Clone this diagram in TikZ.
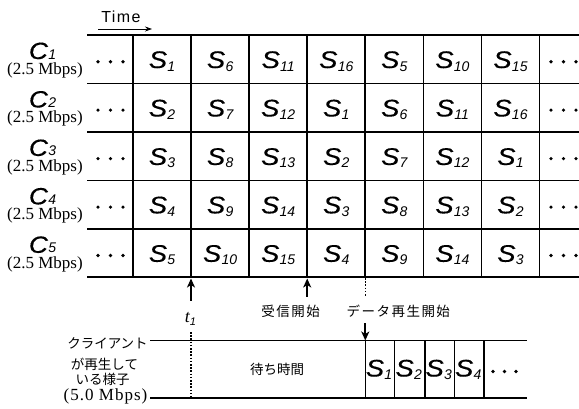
\documentclass[tikz,border=0pt]{standalone}
\usepackage{fontspec}
\setmainfont{Liberation Serif}
\setsansfont{Liberation Sans}
\newfontfamily\jp{Noto Sans CJK JP}
\newfontfamily\jpsp[LetterSpace=11]{Noto Sans CJK JP}
\newfontfamily\sfbold[FakeBold=0.3]{Liberation Sans}
\usetikzlibrary{arrows.meta,calc}

\newcommand{\Sx}[1]{{\sfbold\itshape\fontsize{24}{24}\selectfont\scalebox{1.15}[1]{S}\kern0.3pt\raisebox{-3pt}{\sffamily\itshape\fontsize{14}{14}\selectfont #1}}}
\newcommand{\Cx}[1]{{\sfbold\itshape\fontsize{23.5}{23.5}\selectfont\scalebox{1.12}[1]{C}\kern0.3pt{\sffamily\itshape\fontsize{14}{14}\selectfont #1}}}
\newcommand{\mbps}[1]{{\fontsize{17}{17}\selectfont #1}}

\begin{document}
\begin{tikzpicture}[x=1pt,y=-1pt,
  gridline/.style={line width=1.6pt},
  cell/.style={inner sep=0pt,anchor=base},
  arr/.style={line width=2pt,-{Stealth[length=9pt,width=8pt,inset=2.5pt]}},
  dotline/.style={line width=1.6pt,dash pattern=on 1.6pt off 1.6pt},
  jptext/.style={font=\jp\fontsize{13.5}{13.5}\selectfont,inner sep=0pt},
  jpsptext/.style={font=\jpsp\fontsize{13.5}{13.5}\selectfont,inner sep=0pt},
  dotmark/.style={fill=black}]
\useasboundingbox (0,0) rectangle (579,408);

% horizontal grid lines
\foreach \i in {0,...,5}{
  \coordinate (h\i L) at (87,{35+48.45*\i});
  \coordinate (h\i R) at (579,{35+48.45*\i});
  \draw[gridline] (h\i L) -- (h\i R);
}
% vertical grid lines
\foreach \j in {0,...,7}{
  \coordinate (v\j T) at ({133+58.07*\j},35);
  \coordinate (v\j B) at ({133+58.07*\j},277.25);
  \draw[gridline] (v\j T) -- (v\j B);
}

% cells
\foreach \r/\lst in {1/{1,6,11,16,5,10,15},2/{2,7,12,1,6,11,16},3/{3,8,13,2,7,12,1},4/{4,9,14,3,8,13,2},5/{5,10,15,4,9,14,3}}{
  \foreach \n [count=\c] in \lst {
    \node[cell] (cell-\r-\c) at ({133+58.07*(\c-1)+29},{35+48.45*(\r-1)+33}) {\Sx{\n}};
  }
  % row labels
  \node[cell] (C\r) at (42.5,{35+48.45*(\r-1)+24}) {\Cx{\r}};
  \node[cell] (R\r) at (45,{35+48.45*(\r-1)+39.5}) {\mbps{(2.5 Mbps)}};
  % dots
  \foreach \dx in {-12.5,0,12.5}{
    \fill[dotmark] ({110.5+\dx},{35+48.45*(\r-1)+26.7}) circle (1.8);
    \fill[dotmark] ({563.5+\dx},{35+48.45*(\r-1)+26.7}) circle (1.8);
  }
}

% Time
\node[cell] (time) at (121,22) {\sffamily\addfontfeature{LetterSpace=9}\fontsize{16}{16}\selectfont Time};
\coordinate (tA) at (98,29);
\coordinate (tB) at (152,29);
\draw[line width=0.8pt,-{Stealth[length=7pt,width=5pt]}] (tA) -- (tB);

% lower bar
\coordinate (bTL) at (150,340.5);
\coordinate (bTR) at (527,340.5);
\coordinate (bBL) at (150,398);
\coordinate (bBR) at (527,398);
\draw[gridline] (bTL) -- (bTR);
\draw[gridline] (bBL) -- (bBR);
\foreach \k/\x in {0/365.3,1/394.5,2/425,3/454.3,4/484}{
  \coordinate (w\k T) at (\x,340.5);
  \coordinate (w\k B) at (\x,398);
  \draw[gridline] (w\k T) -- (w\k B);
}
\foreach \k/\x in {1/379,2/408.7,3/438.7,4/468.2}{
  \node[cell] (p\k) at (\x,376.5) {\Sx{\k}};
}
\foreach \x in {493,504.5,516}{
  \fill[dotmark] (\x,371.5) circle (1.8);
}
\node[jptext] (wait) at (277,369) {待ち時間};

% left labels
\node[jptext] (l1) at (107.5,343) {クライアント};
\node[jptext] (l2) at (104.5,364) {が再生して};
\node[jptext] (l3) at (102.5,379) {いる様子};
\node[inner sep=0pt] (l4) at (105.5,396.5) {\addfontfeature{LetterSpace=6}\mbps{(5.0 Mbps)}};

% arrows and markers
\coordinate (a1) at (191,300.7);
\coordinate (a1tip) at (191,278.5);
\draw[arr] (a1) -- (a1tip);
\node[inner sep=0pt] (t1) at (190.5,319) {\fontsize{18}{18}\selectfont\itshape t\raisebox{-3pt}{\sffamily\fontsize{11}{11}\selectfont 1}};
\coordinate (d1a) at (191,332);
\coordinate (d1b) at (191,398);
\draw[dotline] (d1a) -- (d1b);

\coordinate (a2) at (307.2,296.7);
\coordinate (a2tip) at (307.2,278.5);
\draw[arr] (a2) -- (a2tip);
\node[jpsptext] (recv) at (290.7,311.7) {受信開始};

\coordinate (d2a) at (365.3,278);
\coordinate (d2b) at (365.3,296);
\draw[dotline] (d2a) -- (d2b);
\node[jpsptext] (play) at (398.3,311.7) {データ再生開始};
\coordinate (a3) at (365.3,323);
\draw[arr] (a3) -- (w0T);
\end{tikzpicture}
\end{document}
